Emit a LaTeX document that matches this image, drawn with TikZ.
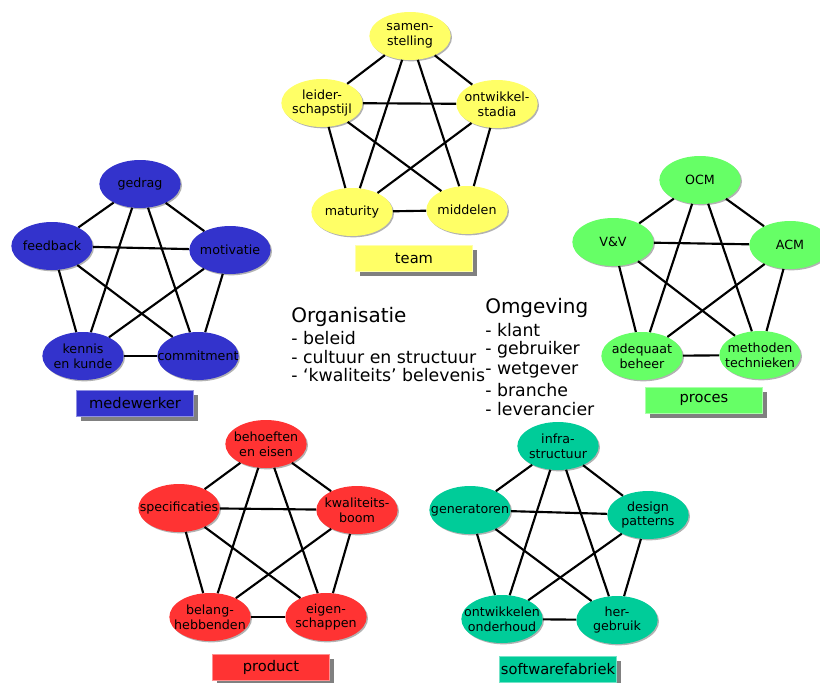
\documentclass[tikz,border=0pt]{standalone}
\usepackage{fontspec}
\setmainfont{DejaVu Sans}
\usetikzlibrary{shapes.geometric,shadows}
\definecolor{cyel}{HTML}{FFFF66}
\definecolor{cblue}{HTML}{3333CC}
\definecolor{cgreen}{HTML}{66FF66}
\definecolor{cred}{HTML}{FF3333}
\definecolor{cteal}{HTML}{00CC99}
\tikzset{
 bub/.style={ellipse, fill=#1, minimum width=61pt, minimum height=36pt, inner sep=0pt,
   drop shadow={shadow xshift=1pt, shadow yshift=-1pt, fill=black, opacity=0.3}},
 lab/.style={font=\fontsize{9.5}{11.2}\selectfont, align=center, text=black, inner sep=0pt},
 tag/.style={rectangle, fill=#1, draw=#1!55!white, line width=0.6pt, minimum width=88pt,
   minimum height=19.5pt, inner sep=0pt, font=\fontsize{11}{12}\selectfont,
   drop shadow={shadow xshift=3.5pt, shadow yshift=-3.5pt, fill=gray, opacity=1}},
 con/.style={line width=1.6pt, black},
 head/.style={font=\fontsize{15}{18}\selectfont, anchor=west, inner sep=0pt},
 item/.style={font=\fontsize{13}{15}\selectfont, anchor=west, inner sep=0pt},
}
\begin{document}
\begin{tikzpicture}[x=0.75pt, y=-0.75pt]
\useasboundingbox (0,0) rectangle (820,682);
\fill[white] (0,0) rectangle (820,682);

% team
\node[bub=cyel, label={[lab]center:samen-\\stelling}] (t1) at (410,36) {};
\node[bub=cyel, label={[lab]center:leider-\\schapstijl}] (t2) at (322,103) {};
\node[bub=cyel, label={[lab]center:ontwikkel-\\stadia}] (t3) at (497,104) {};
\node[bub=cyel, label={[lab]center:maturity}] (t4) at (352,212) {};
\node[bub=cyel, label={[lab]center:middelen}] (t5) at (467,210) {};
\node[tag=cyel] (tt) at (414,258) {team};

% medewerker
\node[bub=cblue, label={[lab]center:gedrag}] (m1) at (140,184) {};
\node[bub=cblue, label={[lab]center:feedback}] (m2) at (52,246) {};
\node[bub=cblue, label={[lab]center:motivatie}] (m3) at (230,250) {};
\node[bub=cblue, label={[lab]center:kennis\\en kunde}] (m4) at (83,356) {};
\node[bub=cblue, label={[lab]center:commitment}] (m5) at (198,356) {};
\node[tag=cblue] (mt) at (135,403) {medewerker};

% proces
\node[bub=cgreen, label={[lab]center:OCM}] (p1) at (700,180) {};
\node[bub=cgreen, label={[lab]center:V\&V}] (p2) at (613,242) {};
\node[bub=cgreen, label={[lab]center:ACM}] (p3) at (790,245) {};
\node[bub=cgreen, label={[lab]center:adequaat\\beheer}] (p4) at (642,356) {};
\node[bub=cgreen, label={[lab]center:methoden\\technieken}] (p5) at (760,355) {};
\node[tag=cgreen] (pt) at (704,400) {proces};

% product
\node[bub=cred, label={[lab]center:behoeften\\en eisen}] (r1) at (266,444) {};
\node[bub=cred, label={[lab]center:specificaties}] (r2) at (179,508) {};
\node[bub=cred, label={[lab]center:kwaliteits-\\boom}] (r3) at (357,510) {};
\node[bub=cred, label={[lab]center:belang-\\hebbenden}] (r4) at (210,617) {};
\node[bub=cred, label={[lab]center:eigen-\\schappen}] (r5) at (326,617) {};
\node[tag=cred] (rt) at (271,667) {product};

% softwarefabriek
\node[bub=cteal, label={[lab]center:infra-\\structuur}] (s1) at (558,446) {};
\node[bub=cteal, label={[lab]center:generatoren}] (s2) at (470,510) {};
\node[bub=cteal, label={[lab]center:design\\patterns}] (s3) at (648,515) {};
\node[bub=cteal, label={[lab]center:ontwikkelen\\onderhoud}] (s4) at (502,619) {};
\node[bub=cteal, label={[lab]center:her-\\gebruik}] (s5) at (617,620) {};
\node[tag=cteal] (st) at (558,669) {softwarefabriek};

\foreach \g in {t,m,p,r,s}{
  \foreach \a/\b in {1/2,1/3,1/4,1/5,2/3,2/4,2/5,3/4,3/5,4/5}{
    \draw[con] (\g\a) -- (\g\b);
  }
}

% middle texts
\node[head] (org) at (291,317) {Organisatie};
\node[item] (o1) at (291,338) {- beleid};
\node[item] (o2) at (291,357) {- cultuur en structuur};
\node[item] (o3) at (291,375) {- ‘kwaliteits’ belevenis};
\node[head] (omg) at (485,308) {Omgeving};
\node[item] (g1) at (485,330) {- klant};
\node[item] (g2) at (485,350) {- gebruiker};
\node[item] (g3) at (485,370) {- wetgever};
\node[item] (g4) at (485,390) {- branche};
\node[item] (g5) at (485,409) {- leverancier};
\end{tikzpicture}
\end{document}
